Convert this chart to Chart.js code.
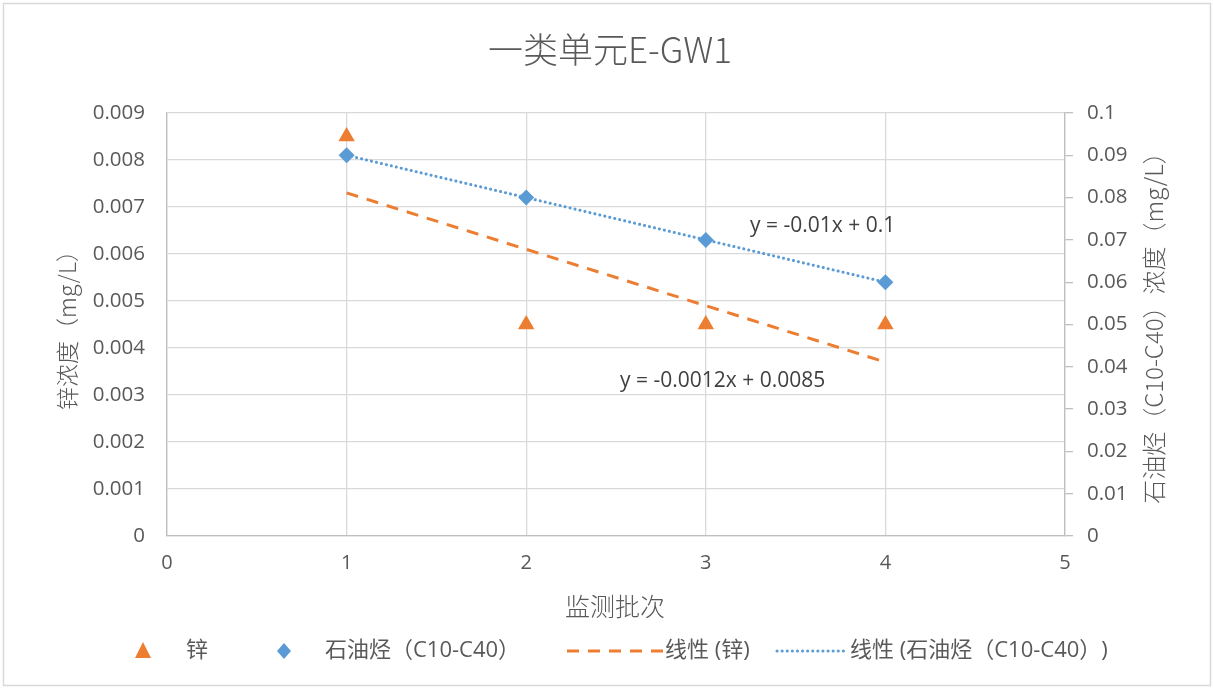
<!DOCTYPE html>
<html>
<head>
<meta charset="utf-8">
<script src="https://cdn.jsdelivr.net/npm/chart.js@4"></script>
<style>
  html, body { margin: 0; padding: 0; background: #fff; }
  #wrap { width: 1213px; height: 688px; }
</style>
</head>
<body>
<div id="wrap"><canvas id="chart" width="1213" height="688"></canvas></div>
<script>
const batches = [1, 2, 3, 4];
const zinc = [0.0085, 0.0045, 0.0045, 0.0045];
const tph = [0.09, 0.08, 0.07, 0.06];
const trendX = [1, 4];
const zincTrend = [0.0073, 0.0037];
const tphTrend = [0.09, 0.06];
const xTicks = [0, 1, 2, 3, 4, 5];

const FONT = '"Open Sans", "Noto Sans CJK SC", sans-serif';
const TEXT = '#595959';
const ORANGE = '#ED7D31';
const BLUE = '#5B9BD5';

const pts = (xs, ys) => xs.map((x, i) => ({ x: x, y: ys[i] }));

const decor = {
    id: 'decor',
    beforeDraw(chart) {
        const ctx = chart.ctx;
        ctx.save();
        ctx.fillStyle = '#fff';
        ctx.fillRect(0, 0, chart.width, chart.height);
        ctx.strokeStyle = '#d9d9d9';
        ctx.lineWidth = 1.5;
        ctx.strokeRect(3.5, 3.5, chart.width - 6, chart.height - 6);
        ctx.restore();
    },
    afterDraw(chart) {
        const ctx = chart.ctx;
        const yL = chart.scales.y, yR = chart.scales.y2;
        ctx.save();
        ctx.fillStyle = TEXT;
        ctx.textAlign = 'center';
        ctx.textBaseline = 'middle';
        ctx.font = '300 35px "Noto Sans CJK SC", sans-serif';
        ctx.fillText('一类单元E-GW1', 610, 50);

        ctx.font = '300 25px "Noto Sans CJK SC", sans-serif';
        ctx.fillText('监测批次', 615, 606);

        ctx.font = '300 23px "Noto Sans CJK SC", sans-serif';
        ctx.save();
        ctx.translate(67, (yL.top + yL.bottom) / 2);
        ctx.rotate(-Math.PI / 2);
        ctx.fillText('锌浓度（mg/L）', 0, 0);
        ctx.restore();

        ctx.font = '300 24px "Noto Sans CJK SC", sans-serif';
        ctx.save();
        ctx.translate(1154, 322);
        ctx.rotate(-Math.PI / 2);
        ctx.fillText('石油烃（C10-C40）浓度（mg/L）', 0, 0);
        ctx.restore();

        // trendline equations
        ctx.font = '21px ' + FONT;
        ctx.fillStyle = '#404040';
        ctx.textAlign = 'left';
        ctx.fillText('y = -0.01x + 0.1', 750, 226);
        ctx.fillText('y = -0.0012x + 0.0085', 620, 381);

        // legend
        const ly = 651;
        ctx.fillStyle = ORANGE;
        ctx.beginPath();
        ctx.moveTo(143, ly - 9);
        ctx.lineTo(151, ly + 7);
        ctx.lineTo(135, ly + 7);
        ctx.closePath();
        ctx.fill();
        ctx.fillStyle = BLUE;
        ctx.beginPath();
        ctx.moveTo(284, ly - 8);
        ctx.lineTo(291, ly);
        ctx.lineTo(284, ly + 8);
        ctx.lineTo(277, ly);
        ctx.closePath();
        ctx.fill();
        ctx.lineWidth = 3;
        ctx.strokeStyle = ORANGE;
        ctx.setLineDash([12, 9]);
        ctx.beginPath();
        ctx.moveTo(567, ly);
        ctx.lineTo(665, ly);
        ctx.stroke();
        ctx.strokeStyle = BLUE;
        ctx.lineCap = 'round';
        ctx.setLineDash([0.1, 5]);
        ctx.beginPath();
        ctx.moveTo(777, ly);
        ctx.lineTo(848, ly);
        ctx.stroke();
        ctx.setLineDash([]);
        ctx.fillStyle = TEXT;
        ctx.font = '22px ' + FONT;
        ctx.fillText('锌', 186, ly);
        ctx.fillText('石油烃（C10-C40）', 325, ly);
        ctx.fillText('线性 (锌)', 665, ly);
        ctx.fillText('线性 (石油烃（C10-C40）)', 850, ly);
        ctx.restore();
    }
};

new Chart(document.getElementById('chart'), {
    type: 'scatter',
    data: {
        datasets: [
            {
                label: '锌',
                data: pts(batches, zinc),
                yAxisID: 'y',
                pointStyle: 'triangle',
                pointRadius: 9.5,
                backgroundColor: ORANGE,
                borderColor: ORANGE,
                borderWidth: 0,
                order: 1,
            },
            {
                label: '石油烃（C10-C40）',
                data: pts(batches, tph),
                yAxisID: 'y2',
                pointStyle: 'rectRot',
                pointRadius: 8,
                backgroundColor: BLUE,
                borderColor: BLUE,
                borderWidth: 0,
                order: 1,
            },
            {
                label: '线性 (锌)',
                data: pts(trendX, zincTrend),
                yAxisID: 'y',
                showLine: true,
                pointRadius: 0,
                borderColor: ORANGE,
                borderWidth: 3,
                borderDash: [12, 9],
                order: 2,
            },
            {
                label: '线性 (石油烃（C10-C40）)',
                data: pts(trendX, tphTrend),
                yAxisID: 'y2',
                showLine: true,
                pointRadius: 0,
                borderColor: BLUE,
                borderWidth: 3,
                borderDash: [0.1, 5],
                borderCapStyle: 'round',
                order: 2,
            },
        ],
    },
    options: {
        responsive: false,
        animation: false,
        layout: { padding: { top: 113, left: 0, right: 0, bottom: 0 } },
        plugins: {
            legend: { display: false },
            tooltip: { enabled: false },
        },
        scales: {
            x: {
                type: 'linear',
                min: 0,
                max: 5,
                afterBuildTicks: (s) => { s.ticks = xTicks.map(v => ({ value: v })); },
                afterFit: (s) => { s.height = 152; },
                grid: { color: '#d9d9d9', lineWidth: 1.3, drawTicks: false },
                border: { color: '#bfbfbf', width: 1.3 },
                ticks: { color: TEXT, font: { family: FONT, size: 20 }, padding: 15 },
            },
            y: {
                position: 'left',
                min: 0,
                max: 0.009,
                afterFit: (s) => { s.width = 167; },
                grid: { color: '#d9d9d9', lineWidth: 1.3, drawTicks: false },
                border: { color: '#bfbfbf', width: 1.3 },
                ticks: {
                    stepSize: 0.001,
                    color: TEXT,
                    font: { family: FONT, size: 20.5 },
                    padding: 22,
                    callback: (v) => v === 0 ? '0' : v.toFixed(3),
                },
            },
            y2: {
                position: 'right',
                min: 0,
                max: 0.1,
                afterFit: (s) => { s.width = 148; },
                grid: { drawOnChartArea: false, color: '#bfbfbf', lineWidth: 1.3, tickLength: 8 },
                border: { color: '#bfbfbf', width: 1.3 },
                ticks: {
                    stepSize: 0.01,
                    color: TEXT,
                    font: { family: FONT, size: 20.5 },
                    padding: 14,
                    callback: (v) => v === 0 ? '0' : String(+v.toFixed(2)),
                },
            },
        },
    },
    plugins: [decor],
});
</script>
</body>
</html>
